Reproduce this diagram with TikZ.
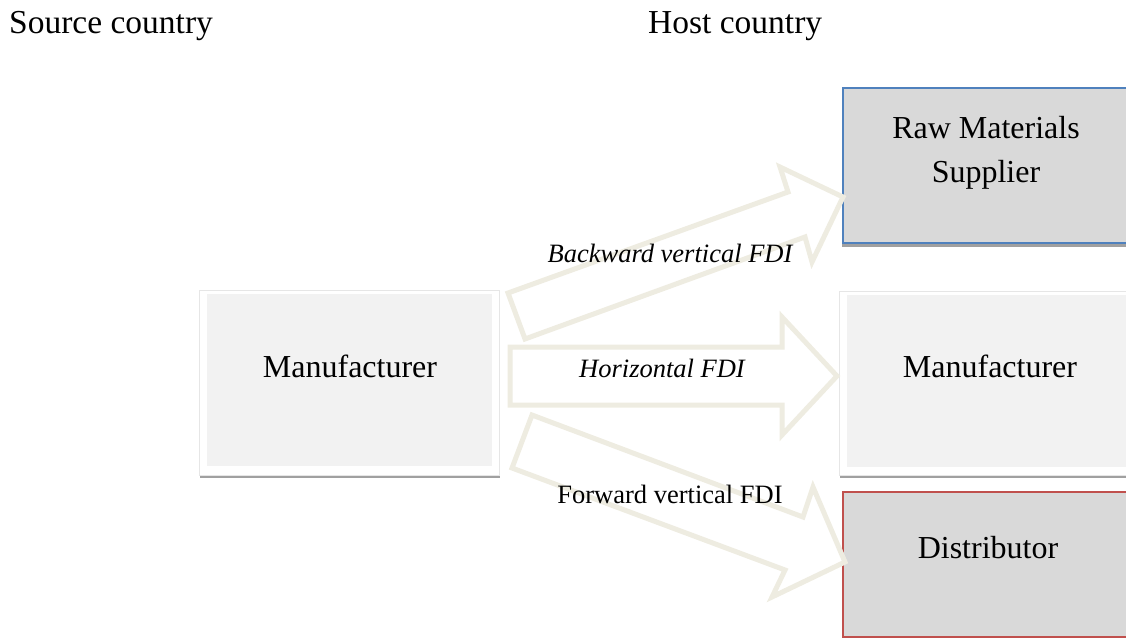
\documentclass[tikz,border=0pt]{standalone}
\usepackage{fontspec}
\setmainfont{Liberation Serif}
\definecolor{arrowc}{HTML}{EEECE1}
\definecolor{lightfill}{HTML}{F2F2F2}
\definecolor{darkfill}{HTML}{D9D9D9}
\definecolor{blueline}{HTML}{4F81BD}
\definecolor{redline}{HTML}{C0504D}
\definecolor{shadowc}{HTML}{A0A0A0}
\definecolor{faint}{HTML}{E6E6E6}
\begin{document}
\begin{tikzpicture}[x=1pt,y=-1pt,
  lbl/.style={font=\fontsize{26.5}{30}\selectfont, anchor=base, inner sep=0pt},
  boxtxt/.style={font=\fontsize{32}{44}\selectfont, anchor=base, inner sep=0pt, align=center},
  headtxt/.style={font=\fontsize{33.5}{40}\selectfont, anchor=base west, inner sep=0pt},
  blockarrow/.style={draw=arrowc, line width=5pt, fill=white, line join=miter},
  shadowbox/.style={fill=shadowc, draw=none, anchor=north west, inner sep=0pt},
  outerbox/.style={fill=white, draw=faint, line width=0.8pt, anchor=north west, inner sep=0pt},
  innerbox/.style={fill=lightfill, draw=none, anchor=north west, inner sep=0pt},
  rawbox/.style={fill=darkfill, draw=blueline, line width=2pt, anchor=north west, inner sep=0pt},
  distbox/.style={fill=darkfill, draw=redline, line width=2pt, anchor=north west, inner sep=0pt},
]
\useasboundingbox (0,0) rectangle (1126,637);
\clip (0,0) rectangle (1126,637);

% headings
\node[headtxt] (src) at (9,33) {Source country};
\node[headtxt] (host) at (648,33) {Host country};

% left manufacturer
\node[shadowbox, minimum width=300pt, minimum height=188pt] (lmsh) at (200,290) {};
\node[outerbox, minimum width=300pt, minimum height=185pt] (lmout) at (199,290) {};
\node[innerbox, minimum width=285pt, minimum height=172pt] (lmin) at (207,294) {};
\node[boxtxt] (lmtxt) at (350,377) {Manufacturer};

% right manufacturer
\node[shadowbox, minimum width=300pt, minimum height=187pt] (rmsh) at (840,291) {};
\node[outerbox, minimum width=300pt, minimum height=184pt] (rmout) at (839,291) {};
\node[innerbox, minimum width=300pt, minimum height=172pt] (rmin) at (847,295) {};
\node[boxtxt] (rmtxt) at (990,377) {Manufacturer};

% raw materials supplier
\node[shadowbox, minimum width=300pt, minimum height=156pt] (rawsh) at (842,91) {};
\node[rawbox, minimum width=300pt, minimum height=155pt] (raw) at (842,87) {};
\node[boxtxt] (rawtxt1) at (986,138) {Raw Materials};
\node[boxtxt] (rawtxt2) at (986,182) {Supplier};

% distributor
\node[distbox, minimum width=300pt, minimum height=144.5pt] (dist) at (842,491) {};
\node[boxtxt] (disttxt) at (988,558) {Distributor};

% block arrows
\draw[blockarrow] (508,293) -- (788,192) -- (780,167) -- (843,197) -- (812,262) -- (805,237) -- (525,339) -- cycle;
\draw[blockarrow] (510,347) -- (782,347) -- (782,317) -- (837,376) -- (782,435) -- (782,405) -- (510,405) -- cycle;
\draw[blockarrow] (532,415) -- (803,517) -- (813,487) -- (845,562) -- (772,597) -- (785,570) -- (512,468) -- cycle;

% arrow labels
\node[lbl, font=\fontsize{26.5}{30}\selectfont\itshape] (bwd) at (670,262) {Backward vertical FDI};
\node[lbl, font=\fontsize{26.5}{30}\selectfont\itshape] (hor) at (662,377) {Horizontal FDI};
\node[lbl] (fwd) at (670,503) {Forward vertical FDI};
\end{tikzpicture}
\end{document}
